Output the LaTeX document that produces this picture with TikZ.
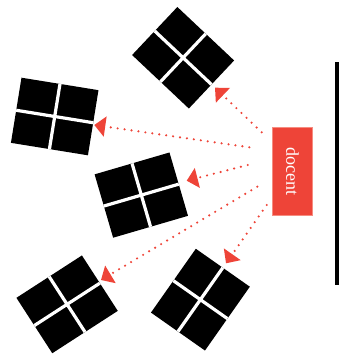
\documentclass[tikz,border=0pt]{standalone}
\usepackage{fontspec}
\setmainfont{Liberation Serif}
\usetikzlibrary{arrows.meta}
\definecolor{docred}{RGB}{238,68,56}
\definecolor{docedge}{RGB}{246,140,128}
\tikzset{
  desk/.style={fill=black, draw=none, minimum width=78pt, minimum height=66pt, inner sep=0pt, outer sep=0pt},
  gap/.style={draw=white, line width=3.2pt},
  look/.style={draw=docred, line width=2.4pt, line cap=round, dash pattern=on 0pt off 7pt,
    -{Triangle[length=11pt,width=20pt,fill=docred,line cap=butt]}},
  docbox/.style={fill=docred, draw=docedge, line width=0.6pt, text=white, rotate=-90,
    minimum width=88pt, minimum height=39.6pt, inner sep=0pt, font=\fontsize{18}{20}\selectfont},
  board/.style={fill=black, draw=none, minimum width=4.5pt, minimum height=223.3pt, inner sep=0pt, outer sep=0pt}
}
\begin{document}
\begin{tikzpicture}[x=1pt,y=1pt]
\useasboundingbox (0,0) rectangle (339,354);
% desks
\node[desk, rotate=-43.3] (d1) at (183.1,296.25) {};
\node[desk, rotate=-9.2]  (d2) at (54.7,237.5) {};
\node[desk, rotate=16.3]  (d3) at (141.3,158.9) {};
\node[desk, rotate=32.9]  (d4) at (67.1,49.65) {};
\node[desk, rotate=54.9]  (d5) at (200.4,54.35) {};
\foreach \d in {d1,d2,d3,d4,d5} {
  \draw[gap] (\d.north) -- (\d.south) (\d.west) -- (\d.east);
}
% docent and board
\node[docbox] (docent) at (292.5,182.3) {docent};
\node[board] (bord) at (337.2,180.65) {};
% sight lines
\coordinate (s1) at (261.7,221.7); \coordinate (t1) at (215,266.3);
\coordinate (s2) at (249.3,206.7); \coordinate (t2) at (94.3,229);
\coordinate (s3) at (247.7,189);   \coordinate (t3) at (186.7,173.3);
\coordinate (s4) at (257.3,167.3); \coordinate (t4) at (101,74);
\coordinate (s5) at (266.7,149);   \coordinate (t5) at (226,90.7);
\foreach \i in {1,...,5} {
  \draw[look] (s\i) -- (t\i);
}
\end{tikzpicture}
\end{document}
